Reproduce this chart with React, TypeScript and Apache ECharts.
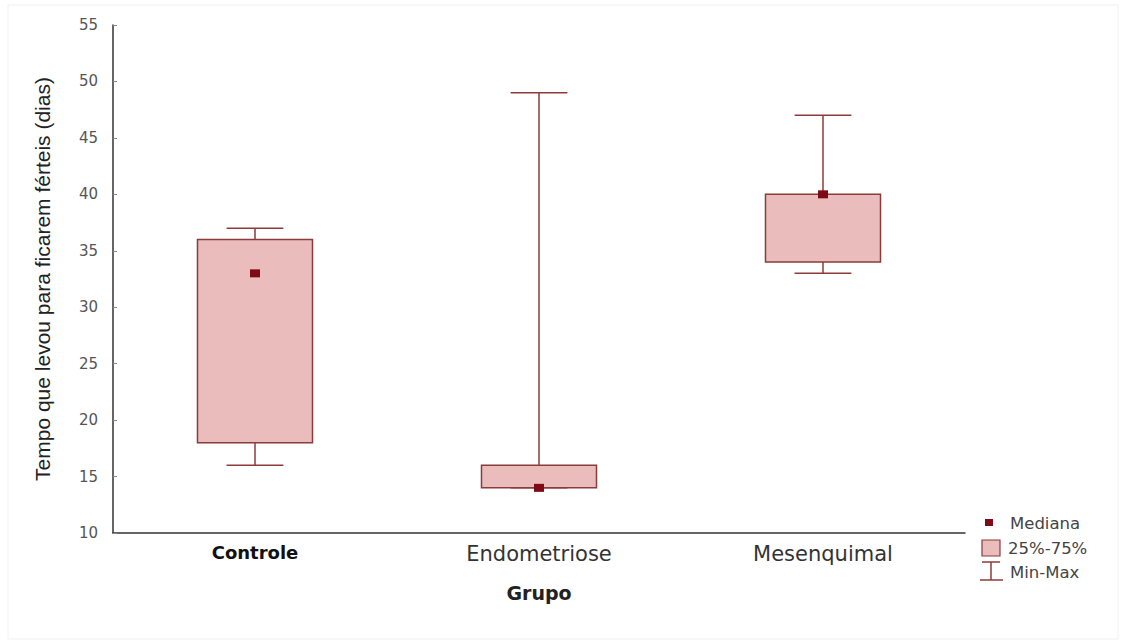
import React, { useEffect, useRef } from "react";
import * as echarts from "echarts";

const categories = ["Controle", "Endometriose", "Mesenquimal"];
const minValues = [16, 14, 33];
const q1Values = [18, 14, 34];
const medianValues = [33, 14, 40];
const q3Values = [36, 16, 40];
const maxValues = [37, 49, 47];
const yTicks = { min: 10, max: 55, interval: 5 };

const BOX_FILL = "#ebbcbc";
const BOX_STROKE = "#8a3b3b";
const WHISKER = "#8f3a3a";
const MEDIAN = "#7d0a14";

export default function App() {
  const ref = useRef<HTMLDivElement>(null);
  useEffect(() => {
    if (!ref.current) return;
    const chart = echarts.init(ref.current, null, { renderer: "svg" });
    const data = categories.map((c, i) => [i, minValues[i], q1Values[i], medianValues[i], q3Values[i], maxValues[i]]);
    chart.setOption({
      animation: false,
      backgroundColor: "#ffffff",
      grid: { left: 113, right: 161, top: 25, bottom: 111 },
      xAxis: {
        type: "category",
        data: categories,
        name: "Grupo",
        nameLocation: "middle",
        nameGap: 50,
        nameTextStyle: { fontFamily: "DejaVu Sans", fontWeight: "bold", fontSize: 19, color: "#222" },
        axisLine: { lineStyle: { color: "#333", width: 1.5 } },
        axisTick: { inside: true, alignWithLabel: true, length: 4, lineStyle: { color: "#888" } },
        axisLabel: {
          margin: 10,
          formatter: (v: string, i: number) => (i === 0 ? `{b|${v}}` : `{r|${v}}`),
          rich: {
            b: { fontFamily: "DejaVu Sans", fontWeight: "bold", fontSize: 18, color: "#111" },
            r: { fontFamily: "DejaVu Sans", fontSize: 21, color: "#333" },
          },
        },
      },
      yAxis: {
        type: "value",
        min: yTicks.min,
        max: yTicks.max,
        interval: yTicks.interval,
        name: "Tempo que levou para ficarem férteis (dias)",
        nameLocation: "middle",
        nameRotate: 90,
        nameGap: 60,
        nameTextStyle: { fontFamily: "Liberation Sans", fontSize: 21, color: "#222" },
        splitLine: { show: false },
        axisLine: { show: true, lineStyle: { color: "#333", width: 1.5 } },
        axisTick: { show: true, inside: true, length: 4, lineStyle: { color: "#888" } },
        axisLabel: { margin: 15, fontFamily: "DejaVu Sans", fontSize: 15, color: "#555" },
      },
      series: [
        {
          type: "custom",
          data,
          encode: { x: 0, y: [1, 2, 3, 4, 5] },
          renderItem: (params: any, api: any) => {
            const x = api.value(0);
            const pMin = api.coord([x, api.value(1)]);
            const pQ1 = api.coord([x, api.value(2)]);
            const pMed = api.coord([x, api.value(3)]);
            const pQ3 = api.coord([x, api.value(4)]);
            const pMax = api.coord([x, api.value(5)]);
            const band = api.size([1, 0])[0];
            const bw = band * 0.405;
            const cw = band * 0.2;
            const cx = pQ1[0];
            return {
              type: "group",
              children: [
                { type: "line", shape: { x1: cx, y1: pQ3[1], x2: cx, y2: pMax[1] }, style: { stroke: WHISKER, lineWidth: 1.5 } },
                { type: "line", shape: { x1: cx, y1: pQ1[1], x2: cx, y2: pMin[1] }, style: { stroke: WHISKER, lineWidth: 1.5 } },
                { type: "line", shape: { x1: cx - cw / 2, y1: pMax[1], x2: cx + cw / 2, y2: pMax[1] }, style: { stroke: WHISKER, lineWidth: 1.5 } },
                { type: "line", shape: { x1: cx - cw / 2, y1: pMin[1], x2: cx + cw / 2, y2: pMin[1] }, style: { stroke: WHISKER, lineWidth: 1.5 } },
                {
                  type: "rect",
                  shape: { x: cx - bw / 2, y: pQ3[1], width: bw, height: pQ1[1] - pQ3[1] },
                  style: { fill: BOX_FILL, stroke: BOX_STROKE, lineWidth: 1.5 },
                },
                { type: "rect", shape: { x: cx - 5, y: pMed[1] - 4, width: 10, height: 8 }, style: { fill: MEDIAN } },
              ],
            };
          },
        },
      ],
      graphic: [
        { type: "rect", shape: { x: 8, y: 5, width: 1110, height: 634 }, style: { fill: "none", stroke: "#f1f1f1", lineWidth: 1 } },
        { type: "rect", shape: { x: 985, y: 519, width: 8, height: 7 }, style: { fill: MEDIAN } },
        { type: "rect", shape: { x: 982, y: 540, width: 18, height: 16 }, style: { fill: BOX_FILL, stroke: BOX_STROKE, lineWidth: 1.2 } },
        { type: "line", shape: { x1: 982, y1: 562, x2: 1000, y2: 562 }, style: { stroke: WHISKER, lineWidth: 1.5 } },
        { type: "line", shape: { x1: 991, y1: 562, x2: 991, y2: 580 }, style: { stroke: WHISKER, lineWidth: 1.5 } },
        { type: "line", shape: { x1: 980, y1: 580, x2: 1003, y2: 580 }, style: { stroke: WHISKER, lineWidth: 1.5 } },
        { type: "text", x: 1010, y: 523, style: { text: "Mediana", fontFamily: "DejaVu Sans", fontSize: 16.5, fill: "#444", verticalAlign: "middle" } },
        { type: "text", x: 1008, y: 548, style: { text: "25%-75%", fontFamily: "DejaVu Sans", fontSize: 16.5, fill: "#444", verticalAlign: "middle" } },
        { type: "text", x: 1010, y: 572, style: { text: "Min-Max", fontFamily: "DejaVu Sans", fontSize: 16.5, fill: "#444", verticalAlign: "middle" } },
      ],
    });
    return () => chart.dispose();
  }, []);
  return <div ref={ref} style={{ position: "fixed", left: 0, top: 0, width: 1126, height: 644 }} />;
}
